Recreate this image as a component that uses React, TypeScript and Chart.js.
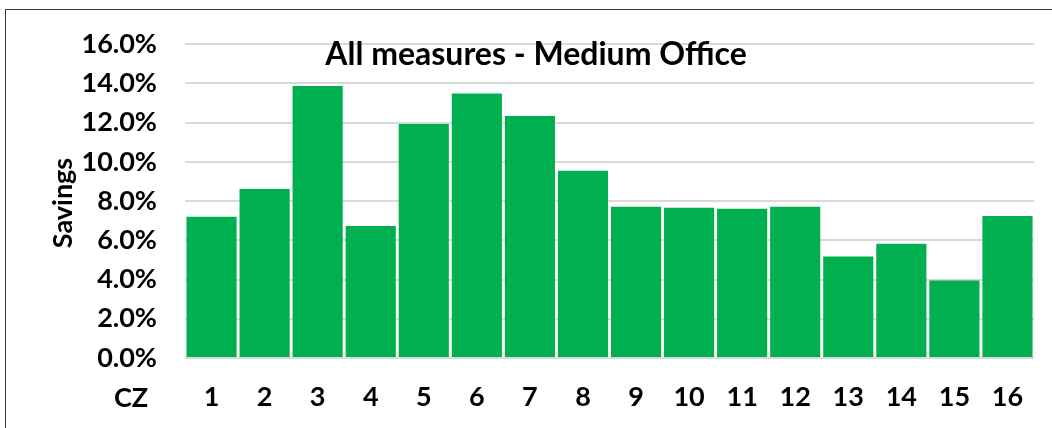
import React, { useEffect, useRef } from "react";
import { Chart, registerables } from "chart.js";

Chart.register(...registerables);

const categories = ["1", "2", "3", "4", "5", "6", "7", "8", "9", "10", "11", "12", "13", "14", "15", "16"];
const savings = [0.072, 0.0862, 0.1387, 0.0673, 0.1193, 0.1348, 0.1234, 0.0955, 0.0771, 0.0766, 0.0761, 0.0771, 0.0518, 0.0582, 0.0395, 0.0724];
const chartTitle = "All measures - Medium Office";
const yTitle = "Savings";
const xTitle = "CZ";

const FONT = "Lato, 'Open Sans', sans-serif";

const textPlugin = {
  id: "textPlugin",
  afterDraw(chart: any) {
    const ctx = chart.ctx;
    ctx.save();
    ctx.fillStyle = "#000";
    // Title
    ctx.font = `bold 32px ${FONT}`;
    ctx.textAlign = "center";
    ctx.textBaseline = "middle";
    ctx.fillText(chartTitle, 536, 55);
    // CZ
    ctx.font = `bold 27px ${FONT}`;
    ctx.fillText(xTitle, 131, 398);
    // Savings
    ctx.translate(63, 203);
    ctx.rotate(-Math.PI / 2);
    ctx.font = `bold 27px ${FONT}`;
    ctx.fillText(yTitle, 0, 0);
    ctx.restore();
  },
};

export default function App() {
  const ref = useRef<HTMLCanvasElement | null>(null);
  useEffect(() => {
    document.body.style.margin = "0";
    const chart = new Chart(ref.current as HTMLCanvasElement, {
      type: "bar",
      data: {
        labels: categories,
        datasets: [
          {
            data: savings,
            backgroundColor: "#00B050",
            barPercentage: 1,
            categoryPercentage: 0.945,
          },
        ],
      },
      options: {
        animation: false,
        responsive: false,
        maintainAspectRatio: false,
        layout: { padding: { left: 0, top: 42, right: 18, bottom: 0 } },
        plugins: { legend: { display: false }, tooltip: { enabled: false }, title: { display: false } },
        scales: {
          x: {
            grid: { display: false, drawTicks: false },
            border: { display: false },
            ticks: { color: "#000", font: { family: FONT, size: 27, weight: "bold" }, padding: 23, maxRotation: 0 },
            afterFit: (s: any) => {
              s.height = 70;
            },
          },
          y: {
            min: 0,
            max: 0.16,
            ticks: {
              stepSize: 0.02,
              color: "#000",
              font: { family: FONT, size: 27, weight: "bold" },
              padding: 28,
              callback: (v: any) => (Number(v) * 100).toFixed(1) + "%",
            },
            grid: { color: "#d9d9d9", lineWidth: 2, drawTicks: false },
            border: { display: false },
            afterFit: (s: any) => {
              s.width = 185;
            },
          },
        },
      },
      plugins: [textPlugin],
    });
    return () => chart.destroy();
  }, []);
  return (
    <div style={{ position: "fixed", left: 0, top: 0, width: 1052, height: 428, overflow: "hidden", background: "#fff" }}>
      <div
        style={{
          position: "absolute",
          left: 5,
          top: 9,
          width: 1200,
          height: 600,
          borderLeft: "1.5px solid #2f3d3a",
          borderTop: "1.5px solid #2f3d3a",
        }}
      />
      <canvas ref={ref} width={1052} height={428} style={{ position: "absolute", left: 0, top: 0 }} />
    </div>
  );
}
